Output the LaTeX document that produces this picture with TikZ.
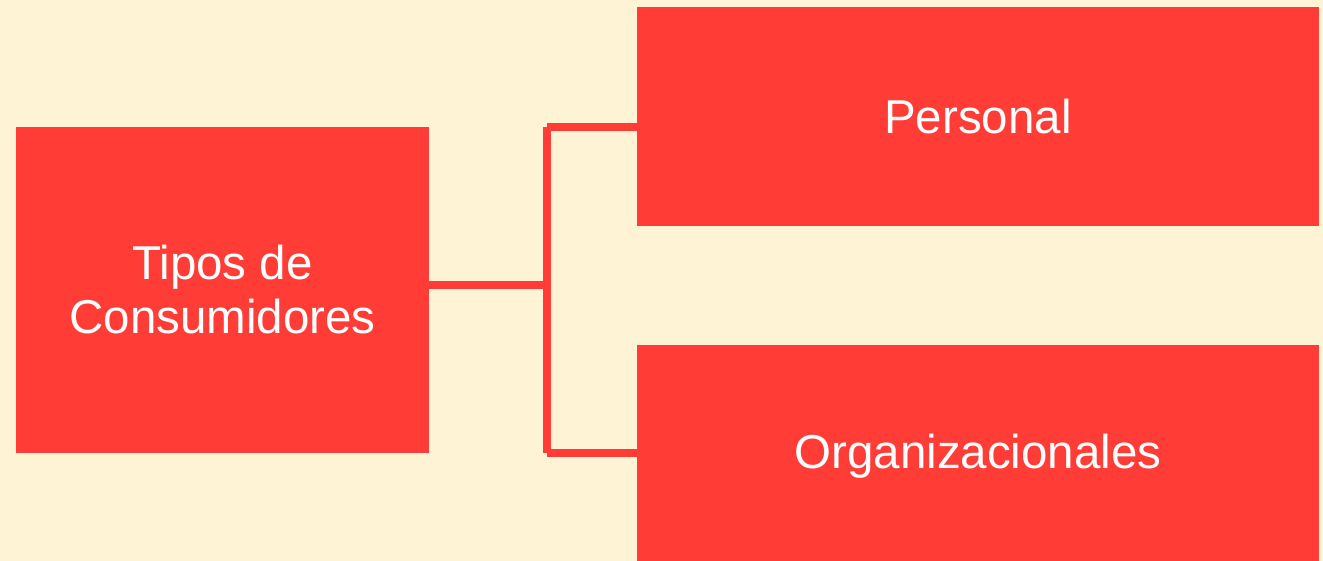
\documentclass[tikz,border=0pt]{standalone}
\usepackage{fontspec}
\setmainfont{Liberation Sans}
\definecolor{boxred}{RGB}{255,61,54}
\definecolor{bgcream}{RGB}{255,243,214}
\begin{document}
\begin{tikzpicture}[x=1pt,y=1pt,
  redbox/.style={fill=boxred,draw=none,inner sep=0pt,text=white,align=center,
    font=\fontsize{47.5}{54}\selectfont},
  conn/.style={draw=boxred,line width=8pt,line cap=butt}]
\fill[bgcream] (0,0) rectangle (1323,561);
\useasboundingbox (0,0) rectangle (1323,561);
\begin{scope}
\clip (0,0) rectangle (1323,561);
\node[redbox,minimum width=413pt,minimum height=326pt] (L) at (222.5,271) {Tipos de\\Consumidores};
\node[redbox,minimum width=682pt,minimum height=219pt] (P) at (978,444.5) {Personal};
\node[redbox,minimum width=682pt,minimum height=222pt] (O) at (978,105) {Organizacionales};
\end{scope}
\coordinate (jm) at (547,276);
\coordinate (jt) at (547,434);
\coordinate (jb) at (547,108);
\draw[conn] (L.east |- jm) -- (jm);
\draw[conn] (jt) -- (jb);
\draw[conn] (jt) -- (P.west |- jt);
\draw[conn] (jb) -- (O.west |- jb);
\end{tikzpicture}
\end{document}
